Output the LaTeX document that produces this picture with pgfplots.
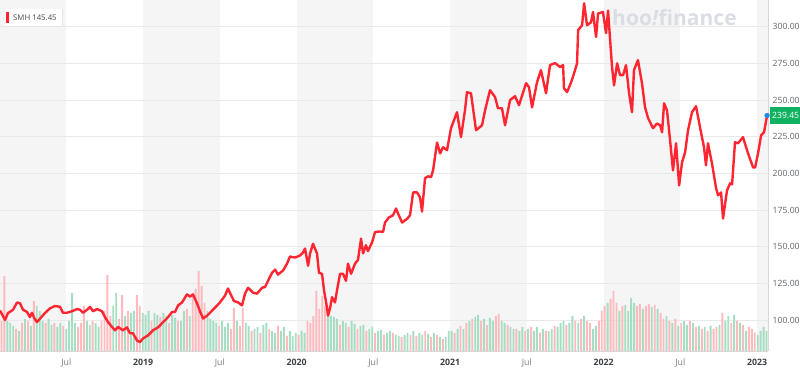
\documentclass[border=0pt]{standalone}
\usepackage{fontspec}
\setmainfont{Open Sans}
\usepackage{pgfplots}
\pgfplotsset{compat=1.18}
\usepackage{pgfplotstable}
\definecolor{bandgray}{RGB}{245,245,245}
\definecolor{gridgray}{RGB}{233,233,233}
\definecolor{axisgray}{RGB}{215,215,215}
\definecolor{linered}{RGB}{255,38,50}
\definecolor{volgreen}{RGB}{165,222,195}
\definecolor{volred}{RGB}{255,186,190}
\definecolor{labgray}{RGB}{95,100,105}
\definecolor{julgray}{RGB}{120,125,130}
\definecolor{yeargray}{RGB}{60,65,70}
\definecolor{wm}{RGB}{218,222,228}
\definecolor{pricegreen}{RGB}{16,178,98}
\definecolor{dotblue}{RGB}{30,136,229}

\pgfplotstableread[row sep=\\]{
g r\\
0 30\\ 0 75\\ 30 0\\ 28 0\\ 25 0\\ 0 22\\ 20 0\\ 0 28\\ 32 0\\ 0 30\\
25 0\\ 0 50\\ 45 0\\ 40 0\\ 30 0\\ 0 28\\ 32 0\\ 26 0\\ 0 28\\ 24 0\\
28 0\\ 0 25\\ 22 0\\ 30 0\\ 58 0\\ 28 0\\ 0 24\\ 0 28\\ 0 45\\ 30 0\\
26 0\\ 0 30\\ 28 0\\ 24 0\\ 0 30\\ 0 40\\ 0 76\\ 0 35\\ 45 0\\ 58 0\\
0 32\\ 0 56\\ 35 0\\ 0 40\\ 38 0\\ 40 0\\ 0 56\\ 0 45\\ 38 0\\ 36 0\\
40 0\\ 0 30\\ 38 0\\ 36 0\\ 0 34\\ 38 0\\ 35 0\\ 0 28\\ 36 0\\ 33 0\\
0 30\\ 30 0\\ 40 0\\ 0 42\\ 35 0\\ 0 55\\ 0 62\\ 0 80\\ 0 65\\ 0 48\\
40 0\\ 32 0\\ 30 0\\ 28 0\\ 0 25\\ 30 0\\ 24 0\\ 28 0\\ 0 22\\ 0 43\\
30 0\\ 0 25\\ 0 43\\ 28 0\\ 25 0\\ 0 20\\ 22 0\\ 24 0\\ 0 18\\ 26 0\\
28 0\\ 0 22\\ 20 0\\ 18 0\\ 0 25\\ 20 0\\ 24 0\\ 0 15\\ 20 0\\ 15 0\\
18 0\\ 0 16\\ 20 0\\ 18 0\\ 0 30\\ 0 28\\ 0 35\\ 0 60\\ 0 42\\ 0 55\\
0 45\\ 40 0\\ 35 0\\ 34 0\\ 32 0\\ 0 26\\ 30 0\\ 28 0\\ 0 24\\ 30 0\\
27 0\\ 0 22\\ 25 0\\ 26 0\\ 0 20\\ 22 0\\ 24 0\\ 0 18\\ 20 0\\ 21 0\\
0 16\\ 18 0\\ 20 0\\ 0 18\\ 16 0\\ 15 0\\ 0 14\\ 16 0\\ 18 0\\ 0 16\\
20 0\\ 0 15\\ 18 0\\ 16 0\\ 0 20\\ 17 0\\ 0 14\\ 18 0\\ 0 16\\ 14 0\\
0 12\\ 14 0\\ 20 0\\ 20 0\\ 0 18\\ 22 0\\ 0 25\\ 22 0\\ 0 28\\ 30 0\\
0 32\\ 34 0\\ 36 0\\ 0 30\\ 32 0\\ 0 26\\ 33 0\\ 30 0\\ 0 35\\ 0 37\\
30 0\\ 28 0\\ 0 26\\ 24 0\\ 22 0\\ 0 22\\ 20 0\\ 24 0\\ 0 20\\ 22 0\\
0 24\\ 20 0\\ 24 0\\ 0 18\\ 22 0\\ 0 20\\ 20 0\\ 22 0\\ 0 25\\ 24 0\\
28 0\\ 30 0\\ 0 26\\ 28 0\\ 35 0\\ 0 30\\ 28 0\\ 0 32\\ 35 0\\ 0 30\\
0 28\\ 22 0\\ 25 0\\ 0 30\\ 0 40\\ 0 45\\ 48 0\\ 0 52\\ 0 60\\ 0 48\\
40 0\\ 0 45\\ 46 0\\ 40 0\\ 53 0\\ 48 0\\ 0 45\\ 0 47\\ 42 0\\ 0 45\\
0 47\\ 44 0\\ 0 46\\ 42 0\\ 0 38\\ 0 32\\ 35 0\\ 0 30\\ 28 0\\ 0 32\\
25 0\\ 0 28\\ 30 0\\ 26 0\\ 0 30\\ 28 0\\ 0 24\\ 25 0\\ 0 22\\ 24 0\\
0 20\\ 25 0\\ 0 22\\ 0 24\\ 26 0\\ 0 38\\ 30 0\\ 35 0\\ 0 28\\ 36 0\\
0 30\\ 28 0\\ 0 26\\ 20 0\\ 0 24\\ 0 22\\ 0 18\\ 16 0\\ 20 0\\ 24 0\\
20 0\\
}\volumes

\begin{document}
\begin{tikzpicture}[x=1pt,y=1pt]

% frame: bands, grid, labels
\begin{axis}[set layers, at={(0pt,28pt)}, anchor=south west, scale only axis,
  width=768pt, height=351pt,
  xmin=2018.068, xmax=2023.071, ymin=78.9, ymax=318.2,
  axis x line*=bottom, axis y line*=right,
  axis line style={draw=axisgray, line width=0.7pt, -},
  ytick={100,125,...,300}, ymajorgrids,
  grid style={draw=gridgray, line width=0.7pt},
  major tick length=0pt,
  /pgf/number format/assume math mode=true,
  y tick label style={/pgf/number format/fixed, /pgf/number format/fixed zerofill,
    /pgf/number format/precision=2, /pgf/number format/1000 sep={},
    anchor=west, inner sep=0pt, xshift=4.5pt, text=labgray,
    font=\fontsize{8.6}{10}\selectfont},
  xtick={2018.5,2019,2019.5,2020,2020.5,2021,2021.5,2022,2022.5,2023},
  xticklabels={{\color{julgray}Jul},{\color{yeargray}\bfseries 2019},
    {\color{julgray}Jul},{\color{yeargray}\bfseries 2020},
    {\color{julgray}Jul},{\color{yeargray}\bfseries 2021},
    {\color{julgray}Jul},{\color{yeargray}\bfseries 2022},
    {\color{julgray}Jul},{\color{yeargray}\bfseries 2023}},
  x tick label style={anchor=center, inner sep=0pt, yshift=-11.5pt,
    font=\fontsize{8.8}{10}\selectfont},
]
\addplot[draw=none] coordinates {(2018.068,78.9) (2023.071,318.2)};
\begin{pgfonlayer}{axis background}
\fill[bandgray] (axis cs:2018.068,78.9) rectangle (axis cs:2018.5,318.2);
\fill[bandgray] (axis cs:2019,78.9) rectangle (axis cs:2019.5,318.2);
\fill[bandgray] (axis cs:2020,78.9) rectangle (axis cs:2020.5,318.2);
\fill[bandgray] (axis cs:2021,78.9) rectangle (axis cs:2021.5,318.2);
\fill[bandgray] (axis cs:2022,78.9) rectangle (axis cs:2022.5,318.2);
\fill[bandgray] (axis cs:2023,78.9) rectangle (axis cs:2023.071,318.2);
\end{pgfonlayer}
\end{axis}

% watermark
\node[anchor=west, inner sep=0pt, text=wm, font=\fontsize{21}{21}\selectfont\bfseries] at (612,361) {hoo\textit{!}finance};

% volume
\begin{axis}[at={(0pt,28pt)}, anchor=south west, scale only axis,
  width=768pt, height=351pt, xmin=-0.5, xmax=260.5, ymin=0, ymax=351, hide axis]
\addplot[ybar, bar width=1.9pt, bar shift=0pt, fill=volgreen, draw=none]
  table[x expr=\coordindex, y=g]{\volumes};
\addplot[ybar, bar width=1.9pt, bar shift=0pt, fill=volred, draw=none]
  table[x expr=\coordindex, y=r]{\volumes};
\end{axis}

% price
\begin{axis}[at={(0pt,28pt)}, anchor=south west, scale only axis,
  width=768pt, height=351pt,
  xmin=2018.068, xmax=2023.071, ymin=78.9, ymax=318.2, hide axis, clip=false]
\addplot[linered, line width=2.4pt, line join=round] coordinates {
(2018.068,106.5) (2018.101,100) (2018.120,104.8) (2018.153,107) (2018.179,112)
(2018.198,111.5) (2018.218,107) (2018.244,105.5) (2018.263,102) (2018.277,105)
(2018.290,101.5) (2018.309,98.6) (2018.329,101) (2018.361,104.8) (2018.394,108)
(2018.426,109.6) (2018.459,109) (2018.478,105) (2018.505,105) (2018.537,106)
(2018.570,107.5) (2018.589,107) (2018.609,105) (2018.635,107) (2018.654,109)
(2018.674,106) (2018.700,107.5) (2018.733,106) (2018.752,102) (2018.772,98.6)
(2018.798,95.3) (2018.817,93) (2018.837,95.3) (2018.869,93) (2018.895,95)
(2018.915,91) (2018.934,91) (2018.961,86) (2018.980,85) (2019.000,87.5)
(2019.032,89.5) (2019.065,93) (2019.097,95) (2019.130,98.5) (2019.163,102)
(2019.189,105.5) (2019.208,105.5) (2019.228,110) (2019.254,112) (2019.286,117.5)
(2019.306,116) (2019.325,117.5) (2019.351,111.5) (2019.371,106) (2019.391,101)
(2019.417,103) (2019.436,105) (2019.469,108.5) (2019.501,112) (2019.534,116.7)
(2019.553,121.5) (2019.573,117) (2019.592,113) (2019.619,112) (2019.645,110)
(2019.664,118) (2019.684,122) (2019.716,118.7) (2019.742,118) (2019.775,122)
(2019.794,122.5) (2019.814,126.7) (2019.840,132.2) (2019.860,134.4) (2019.879,131)
(2019.912,133.8) (2019.938,138.5) (2019.957,143.3) (2019.990,142.6) (2020.022,144)
(2020.042,146) (2020.055,148.8) (2020.075,137) (2020.088,145.4) (2020.107,152)
(2020.133,145.4) (2020.146,132.2) (2020.166,131.5) (2020.179,120) (2020.198,108.6)
(2020.205,103) (2020.218,108) (2020.231,115.6) (2020.250,112) (2020.263,120)
(2020.283,131.5) (2020.303,131.5) (2020.322,126.7) (2020.335,138.5) (2020.355,131.5)
(2020.381,138.5) (2020.400,141) (2020.420,155.5) (2020.433,145.4) (2020.452,151)
(2020.465,147) (2020.492,153) (2020.511,160) (2020.544,160.4) (2020.563,160)
(2020.576,166.5) (2020.602,170) (2020.628,171.4) (2020.648,176) (2020.661,172.6)
(2020.687,166.5) (2020.720,169) (2020.739,171.4) (2020.759,187) (2020.785,187)
(2020.804,183.6) (2020.817,174) (2020.837,196.7) (2020.856,198) (2020.876,197.4)
(2020.889,202) (2020.915,221) (2020.935,213.6) (2020.954,217.8) (2020.980,215.8)
(2021.006,230.8) (2021.045,241.7) (2021.071,224.7) (2021.097,243) (2021.110,255.3)
(2021.136,254.6) (2021.169,229.4) (2021.208,232.8) (2021.228,243) (2021.260,256.7)
(2021.293,252) (2021.312,244.4) (2021.338,244.4) (2021.358,232.8) (2021.391,250)
(2021.423,252.6) (2021.449,246.5) (2021.475,255) (2021.495,261.5) (2021.514,258.8)
(2021.534,245) (2021.566,262) (2021.592,270.4) (2021.625,254.6) (2021.651,273.8)
(2021.684,275.2) (2021.716,272.5) (2021.736,273.8) (2021.742,258) (2021.762,255.4)
(2021.788,262) (2021.807,268) (2021.827,275) (2021.834,297.7) (2021.860,301)
(2021.873,316) (2021.892,301) (2021.918,303) (2021.931,310) (2021.951,293)
(2021.964,309) (2021.996,310) (2022.016,295.6) (2022.029,311) (2022.055,272.5)
(2022.068,260) (2022.088,275) (2022.107,267) (2022.127,267) (2022.146,273.8)
(2022.166,254.6) (2022.185,241.7) (2022.198,270.4) (2022.224,277.2) (2022.250,261.5)
(2022.270,245) (2022.290,237.6) (2022.322,230.8) (2022.348,234) (2022.368,232.8)
(2022.381,228) (2022.394,247.8) (2022.413,243) (2022.433,222.6) (2022.452,202)
(2022.472,220.5) (2022.492,191.8) (2022.511,207.6) (2022.531,214.4) (2022.550,229.4)
(2022.576,241.7) (2022.602,245.8) (2022.628,231.5) (2022.654,217.8) (2022.667,205.5)
(2022.680,220.5) (2022.706,206.8) (2022.733,189.7) (2022.746,185) (2022.765,187)
(2022.778,169.2) (2022.804,188.4) (2022.824,193.2) (2022.837,192.5) (2022.856,221.3)
(2022.876,220.5) (2022.908,224.7) (2022.941,213.6) (2022.974,204) (2022.987,204)
(2023.006,213.6) (2023.026,226) (2023.045,228) (2023.065,239.45)
};
\addplot[only marks, mark=*, mark size=2.4pt, color=dotblue] coordinates {(2023.065,239.45)};
\end{axis}

% last price label
\fill[pricegreen] (770,255) rectangle (802,272);
\node[anchor=west, inner sep=0pt, text=white, font=\fontsize{8.6}{10}\selectfont] at (772,263.5) {239.45};

% legend chip
\fill[black!10] (5.6,352.4) rectangle (62.8,370);
\fill[white] (5,353) rectangle (62,370);
\fill[linered] (6.2,355.5) rectangle (9,367);
\node[anchor=west, inner sep=0pt, text=black!70, font=\fontsize{7.8}{9}\selectfont] at (13,361.5) {SMH\ 145.45};

\pgfresetboundingbox
\path[use as bounding box] (0,0) rectangle (800,379);
\end{tikzpicture}
\end{document}
